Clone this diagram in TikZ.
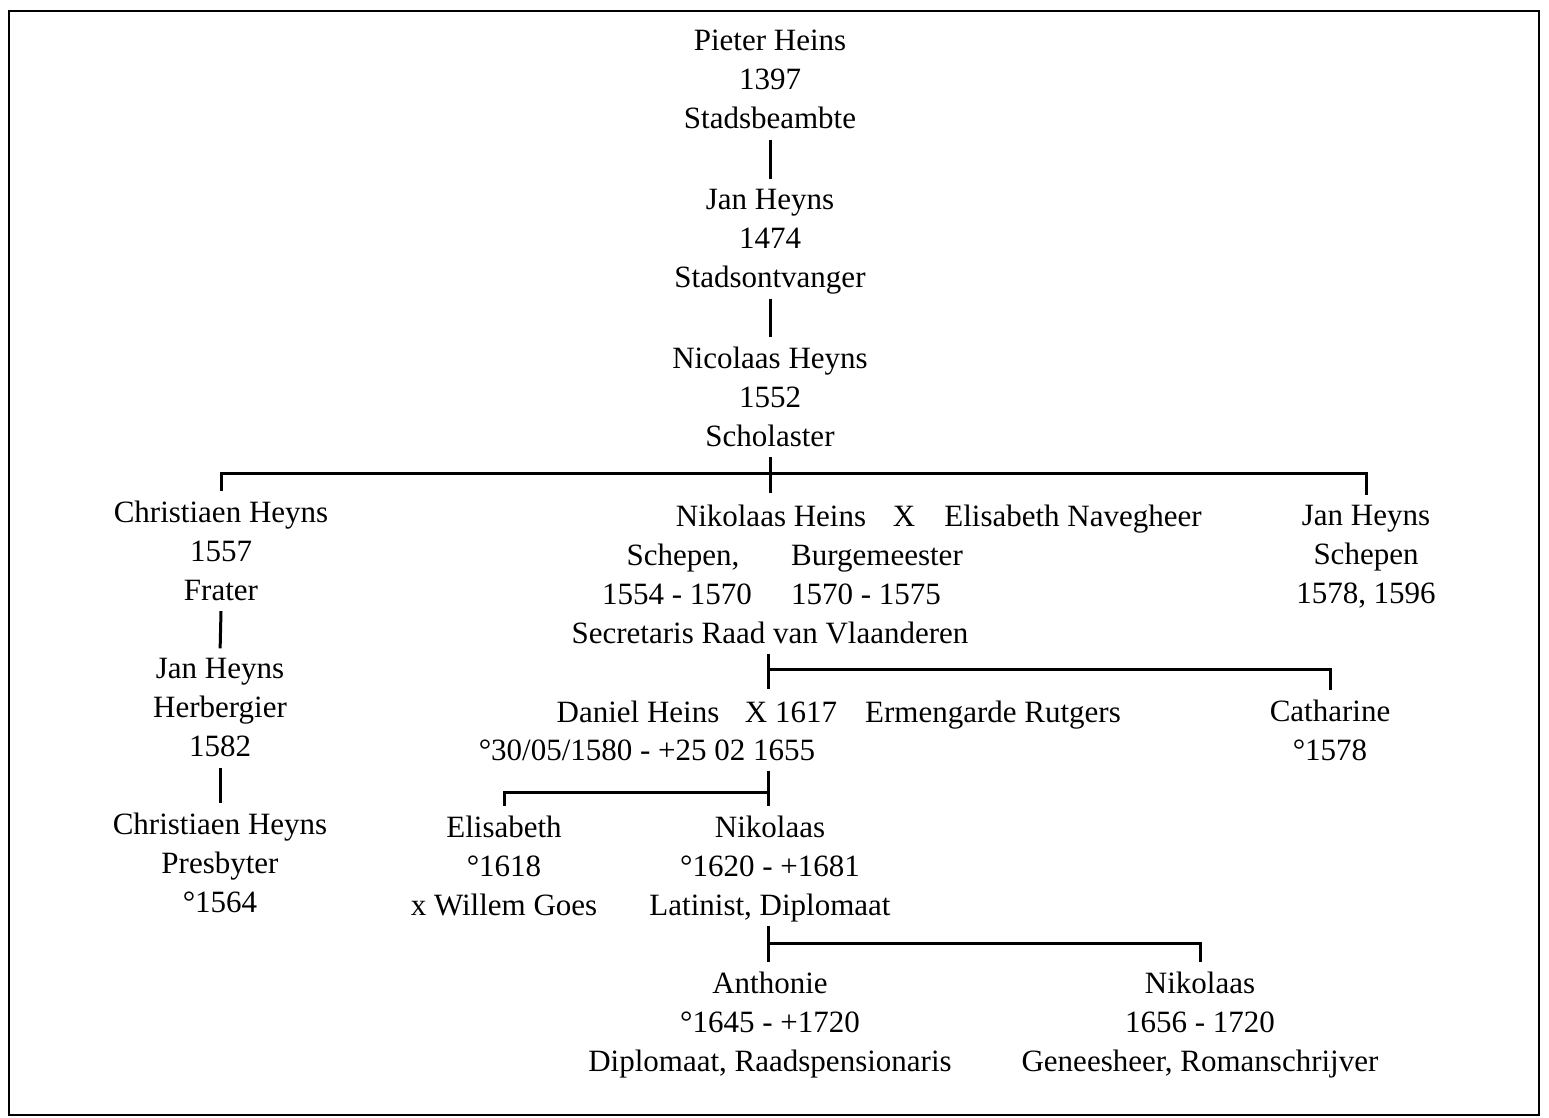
\documentclass[tikz,border=0pt]{standalone}
\usepackage{fontspec}
\setmainfont{Liberation Serif}
\newcommand\linestrut{\rule[-3.5pt]{0pt}{15pt}}
\begin{document}
\begin{tikzpicture}[x=0.5pt,y=-0.5pt,
  txt/.style={font=\fontsize{15.5}{19.5}\selectfont, align=center, inner xsep=2pt, inner ysep=1.75pt,
    execute at begin node=\linestrut, execute at end node=\linestrut},
  link/.style={line width=1.5pt, shorten >=3pt},
  frame/.style={line width=1.1pt}]
\useasboundingbox (0,0) rectangle (1549,1118);
\draw[frame] (9,11) rectangle (1539,1115);

% generations 1-3
\node[txt] (pieter) at (770,83) {Pieter Heins\\1397\\Stadsbeambte};
\node[txt] (jan) at (770,242) {Jan Heyns\\1474\\Stadsontvanger};
\node[txt] (nicolaas) at (770,400) {Nicolaas Heyns\\1552\\Scholaster};

% generation 4
\node[txt] (chr1) at (221,554) {Christiaen Heyns\\1557\\Frater};
\node[txt] (janh) at (220,711) {Jan Heyns\\Herbergier\\1582};
\node[txt] (chr2) at (220,866) {Christiaen Heyns\\Presbyter\\°1564};
\node[txt] (janr) at (1366,558) {Jan Heyns\\Schepen\\1578, 1596};

\node[txt] (nik) at (771,518) {Nikolaas Heins};
\node[txt] (x1) at (904,518) {X};
\node[txt] (elisn) at (1073,518) {Elisabeth Navegheer};
\node[txt] (schepen) at (683,557) {Schepen,};
\node[txt] (burg) at (877,557) {Burgemeester};
\node[txt] (ya) at (677,596) {1554 - 1570};
\node[txt] (yb) at (866,596) {1570 - 1575};
\node[txt] (secr) at (770,635) {Secretaris Raad van Vlaanderen};

% generation 5
\node[txt] (daniel) at (638,714) {Daniel Heins};
\node[txt] (x2) at (791,714) {X 1617};
\node[txt] (erm) at (993,714) {Ermengarde Rutgers};
\node[txt] (ddates) at (647,752) {°30/05/1580 - +25 02 1655};
\node[txt] (cath) at (1330,734) {Catharine\\°1578};

% generation 6
\node[txt] (elis) at (504,869) {Elisabeth\\°1618\\x Willem Goes};
\node[txt] (nik2) at (770,869) {Nikolaas\\°1620 - +1681\\Latinist, Diplomaat};

% generation 7
\node[txt] (anth) at (770,1025) {Anthonie\\°1645 - +1720\\Diplomaat, Raadspensionaris};
\node[txt] (nik3) at (1200,1025) {Nikolaas\\1656 - 1720\\Geneesheer, Romanschrijver};

% connectors
\draw[link] (pieter.south) -- (jan.north);
\draw[link] (jan.south) -- (nicolaas.north);
\coordinate (b1) at (770,474);
\draw[link] (nicolaas.south) -- (nicolaas.south |- nik.north);
\draw[link] (b1) -| (chr1.north);
\draw[link] (b1) -| (janr.north);
\draw[link] (chr1.south) -- (janh.north);
\draw[link] (janh.south) -- (chr2.north);

\coordinate (b2) at (768,669);
\draw[link] (b2 |- secr.south) -- (b2 |- x2.north);
\draw[link] (b2) -| (cath.north);

\coordinate (b3) at (768,792);
\draw[link] (b3 |- ddates.south) -- (b3 |- nik2.north);
\draw[link] (b3) -| (elis.north);

\coordinate (b4) at (768,943);
\draw[link] (b4 |- nik2.south) -- (b4 |- anth.north);
\draw[link] (b4) -| (nik3.north);
\end{tikzpicture}
\end{document}
